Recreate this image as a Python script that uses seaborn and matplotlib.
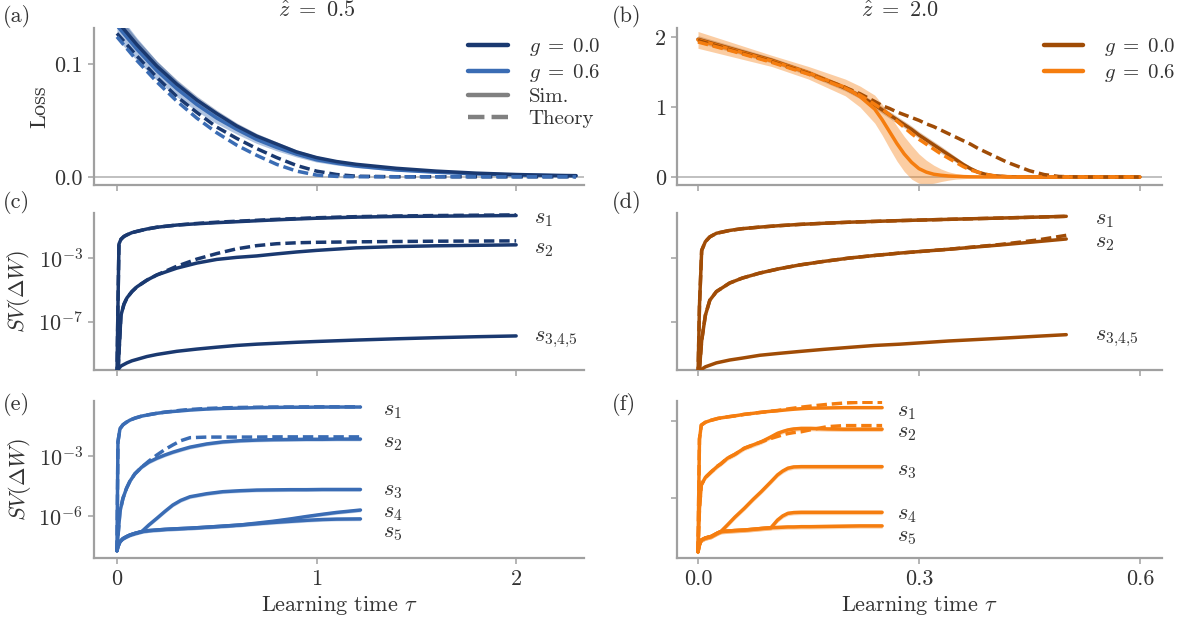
import numpy as np
import matplotlib
matplotlib.use("Agg")
import matplotlib.pyplot as plt
from matplotlib.lines import Line2D
from matplotlib.ticker import NullLocator, LogFormatterMathtext
import seaborn as sns

sns.set_theme(style="ticks")
FS = 16
plt.rcParams.update({
    "font.family": "serif",
    "font.serif": ["cmr10"],
    "mathtext.fontset": "cm",
    "axes.formatter.use_mathtext": True,
    "axes.unicode_minus": False,
    "font.size": FS,
    "axes.labelsize": FS,
    "axes.titlesize": FS,
    "xtick.labelsize": FS,
    "ytick.labelsize": FS,
    "legend.fontsize": 15,
    "axes.edgecolor": "#a0a0a0",
    "axes.linewidth": 1.6,
    "xtick.color": "#a0a0a0",
    "ytick.color": "#a0a0a0",
    "xtick.labelcolor": "#333333",
    "ytick.labelcolor": "#333333",
    "axes.labelcolor": "#333333",
    "text.color": "#333333",
})

NAVY = "#1a3970"
BLUE = "#3a6cb4"
BROWN = "#a04c06"
ORANGE = "#f57d0f"

# ---- (a) loss, z=0.5 ----
t_a = [0, 0.1, 0.2, 0.3, 0.4, 0.5, 0.6, 0.7, 0.8, 0.9, 1.0, 1.1, 1.2, 1.4, 1.6, 1.8, 2.0, 2.2, 2.3]
a_g0_sim = [0.138, 0.117, 0.098, 0.082, 0.068, 0.056, 0.045, 0.036, 0.029, 0.022, 0.017, 0.0135, 0.011, 0.0075, 0.005, 0.0032, 0.002, 0.0012, 0.001]
a_g06_sim = [0.134, 0.113, 0.094, 0.078, 0.064, 0.052, 0.042, 0.033, 0.026, 0.020, 0.015, 0.012, 0.0095, 0.006, 0.004, 0.0025, 0.0015, 0.001, 0.0008]
a_g0_th = [0.127, 0.107, 0.088, 0.071, 0.057, 0.044, 0.034, 0.025, 0.017, 0.010, 0.005, 0.002, 0.0005, 0, 0, 0, 0, 0, 0]
a_g06_th = [0.124, 0.103, 0.084, 0.067, 0.052, 0.039, 0.028, 0.019, 0.011, 0.005, 0.0015, 0.0003, 0, 0, 0, 0, 0, 0, 0]
a_g0_sd = [0.006, 0.005, 0.0045, 0.004, 0.0035, 0.003, 0.0027, 0.0024, 0.002, 0.0018, 0.0015, 0.0013, 0.0011, 0.0008, 0.0006, 0.0004, 0.0003, 0.0002, 0.0002]
a_g06_sd = [0.012, 0.010, 0.0085, 0.0072, 0.006, 0.005, 0.0042, 0.0035, 0.003, 0.0025, 0.002, 0.0017, 0.0014, 0.001, 0.0007, 0.0005, 0.0003, 0.0002, 0.0002]

# ---- (b) loss, z=2.0 ----
t_b = [0, 0.05, 0.1, 0.15, 0.2, 0.22, 0.24, 0.25, 0.26, 0.27, 0.28, 0.29, 0.30, 0.31, 0.32,
       0.33, 0.34, 0.35, 0.36, 0.37, 0.38, 0.39, 0.40, 0.42, 0.45, 0.47, 0.49, 0.52, 0.56, 0.6]
b_g0_sim = [1.97, 1.82, 1.67, 1.49, 1.27, 1.16, 1.03, 0.96, 0.89, 0.82, 0.75, 0.68, 0.60, 0.53, 0.46,
            0.39, 0.32, 0.25, 0.18, 0.12, 0.07, 0.04, 0.02, 0.005, 0.001, 0, 0, 0, 0, 0]
b_g0_th = [1.95, 1.80, 1.65, 1.48, 1.28, 1.19, 1.08, 1.02, 0.98, 0.93, 0.89, 0.85, 0.81, 0.76, 0.72,
           0.67, 0.62, 0.57, 0.52, 0.47, 0.41, 0.36, 0.31, 0.21, 0.09, 0.035, 0.008, 0, 0, 0]
b_g06_sim = [1.96, 1.81, 1.66, 1.49, 1.28, 1.15, 0.97, 0.82, 0.65, 0.48, 0.33, 0.21, 0.12, 0.07, 0.04,
             0.025, 0.015, 0.01, 0.006, 0.003, 0.002, 0.001, 0, 0, 0, 0, 0, 0, 0, 0]
b_g06_th = [1.93, 1.79, 1.64, 1.47, 1.27, 1.17, 1.04, 0.97, 0.89, 0.80, 0.71, 0.62, 0.54, 0.47, 0.40,
            0.33, 0.27, 0.21, 0.15, 0.10, 0.07, 0.04, 0.02, 0.004, 0, 0, 0, 0, 0, 0]
b_g0_sd = [0.05, 0.045, 0.04, 0.04, 0.04, 0.04, 0.045, 0.05, 0.05, 0.05, 0.05, 0.05, 0.05, 0.05, 0.05,
           0.05, 0.045, 0.04, 0.035, 0.03, 0.025, 0.02, 0.015, 0.01, 0.005, 0, 0, 0, 0, 0]
b_g06_sd = [0.12, 0.10, 0.08, 0.09, 0.12, 0.15, 0.20, 0.22, 0.24, 0.25, 0.25, 0.24, 0.21, 0.17, 0.13,
            0.09, 0.06, 0.04, 0.03, 0.02, 0.015, 0.01, 0.005, 0.002, 0, 0, 0, 0, 0, 0]

# ---- (c) log10 singular values, z=0.5, g=0 ----
t_c = [0, 0.005, 0.01, 0.02, 0.035, 0.05, 0.075, 0.1, 0.15, 0.2, 0.3, 0.4, 0.5, 0.6, 0.7,
       0.8, 0.9, 1.0, 1.2, 1.4, 1.6, 1.8, 2.0]
c_s1_sim = [-10.5, -6.0, -2.1, -1.8, -1.62, -1.52, -1.38, -1.3, -1.15, -1.04, -0.9, -0.82, -0.75, -0.69, -0.63,
            -0.57, -0.52, -0.47, -0.40, -0.36, -0.34, -0.32, -0.30]
c_s1_th = [-10.5, -6.0, -2.1, -1.8, -1.62, -1.52, -1.38, -1.3, -1.15, -1.04, -0.9, -0.80, -0.72, -0.66, -0.60,
           -0.54, -0.49, -0.44, -0.37, -0.33, -0.30, -0.28, -0.26]
c_s2_sim = [-11.0, -10.3, -9.0, -6.6, -5.9, -5.5, -5.1, -4.8, -4.38, -4.05, -3.62, -3.3, -3.07, -2.94, -2.85,
            -2.72, -2.6, -2.5, -2.34, -2.26, -2.21, -2.18, -2.15]
c_s2_th = [-11.0, -10.3, -9.0, -6.6, -5.9, -5.5, -5.1, -4.8, -4.38, -4.05, -3.5, -3.05, -2.7, -2.4, -2.2,
           -2.08, -2.02, -1.99, -1.96, -1.94, -1.92, -1.91, -1.90]
c_s345 = [-10.3, -10.05, -9.95, -9.8, -9.7, -9.6, -9.47, -9.38, -9.2, -9.07, -8.87, -8.73, -8.61, -8.5, -8.42,
          -8.36, -8.3, -8.25, -8.16, -8.08, -8.01, -7.95, -7.9]

# ---- (d) log10 singular values, z=2.0, g=0 ----
t_d = [0, 0.002, 0.005, 0.01, 0.016, 0.025, 0.043, 0.06, 0.084, 0.11, 0.138, 0.17, 0.206, 0.24, 0.274,
       0.34, 0.41, 0.46, 0.5]
d_s1 = [-10.5, -6.0, -2.5, -1.95, -1.65, -1.42, -1.24, -1.13, -1.03, -0.94, -0.86, -0.79, -0.72, -0.67, -0.62,
        -0.54, -0.46, -0.40, -0.35]
d_s2_sim = [-11.0, -10.0, -8.2, -6.6, -5.65, -5.1, -4.56, -4.25, -3.93, -3.66, -3.42, -3.2, -2.98, -2.82, -2.67,
            -2.43, -2.16, -1.95, -1.78]
d_s2_th = [-11.0, -10.0, -8.2, -6.6, -5.65, -5.1, -4.56, -4.25, -3.93, -3.66, -3.42, -3.2, -2.98, -2.82, -2.67,
           -2.43, -2.13, -1.85, -1.55]
d_s345 = [-10.3, -10.15, -10.0, -9.85, -9.75, -9.6, -9.42, -9.3, -9.12, -9.0, -8.88, -8.75, -8.62, -8.5, -8.42,
          -8.22, -8.05, -7.92, -7.82]

# ---- (e) log10 singular values, z=0.5, g=0.6 ----
t_e = [0, 0.005, 0.015, 0.03, 0.048, 0.065, 0.09, 0.124, 0.16, 0.2, 0.24, 0.28, 0.32, 0.366, 0.45,
       0.53, 0.62, 0.7, 0.78, 0.87, 0.95, 1.03, 1.1, 1.22]
e_s1_sim = [-7.7, -2.3, -1.65, -1.45, -1.32, -1.22, -1.12, -1.02, -0.95, -0.88, -0.83, -0.79, -0.76, -0.72, -0.67,
            -0.64, -0.62, -0.60, -0.59, -0.58, -0.58, -0.57, -0.57, -0.57]
e_s1_th = [-7.7, -2.3, -1.65, -1.45, -1.32, -1.22, -1.12, -1.02, -0.95, -0.88, -0.82, -0.78, -0.73, -0.69, -0.64,
           -0.61, -0.59, -0.58, -0.57, -0.57, -0.56, -0.56, -0.56, -0.56]
e_s2_sim = [-7.7, -7.0, -5.76, -5.1, -4.6, -4.25, -3.88, -3.55, -3.3, -3.11, -2.95, -2.81, -2.69, -2.56, -2.4,
            -2.3, -2.24, -2.21, -2.19, -2.18, -2.17, -2.17, -2.16, -2.16]
e_s2_th = [-7.7, -7.0, -5.76, -5.1, -4.6, -4.25, -3.88, -3.55, -3.25, -2.95, -2.68, -2.45, -2.24, -2.09, -2.06,
           -2.06, -2.06, -2.06, -2.05, -2.05, -2.05, -2.05, -2.05, -2.05]
e_s3 = [-7.7, -7.5, -7.25, -7.1, -7.0, -6.92, -6.84, -6.75, -6.42, -6.09, -5.75, -5.43, -5.2, -5.02, -4.87,
        -4.77, -4.72, -4.69, -4.68, -4.67, -4.67, -4.66, -4.66, -4.66]
e_s4 = [-7.7, -7.5, -7.25, -7.1, -7.0, -6.92, -6.84, -6.75, -6.7, -6.67, -6.64, -6.62, -6.6, -6.58, -6.53,
        -6.48, -6.42, -6.33, -6.24, -6.12, -6.0, -5.89, -5.8, -5.68]
e_s5 = [-7.7, -7.5, -7.25, -7.1, -7.0, -6.92, -6.84, -6.75, -6.7, -6.67, -6.64, -6.62, -6.6, -6.58, -6.53,
        -6.48, -6.42, -6.36, -6.3, -6.24, -6.19, -6.15, -6.13, -6.12]

# ---- (f) log10 singular values, z=2.0, g=0.6 ----
t_f = [0, 0.002, 0.0045, 0.01, 0.018, 0.027, 0.031, 0.04, 0.05, 0.063, 0.075, 0.086, 0.099, 0.108, 0.115,
       0.122, 0.13, 0.14, 0.153, 0.176, 0.198, 0.22, 0.25]
f_s1_sim = [-8.1, -3.7, -3.16, -3.05, -2.97, -2.9, -2.88, -2.84, -2.8, -2.74, -2.7, -2.66, -2.62, -2.6, -2.58,
            -2.56, -2.54, -2.52, -2.5, -2.49, -2.48, -2.48, -2.48]
f_s1_th = [-8.1, -3.7, -3.16, -3.05, -2.97, -2.9, -2.88, -2.84, -2.8, -2.74, -2.7, -2.66, -2.62, -2.59, -2.56,
           -2.53, -2.5, -2.46, -2.42, -2.35, -2.3, -2.27, -2.27]
f_s2_sim = [-8.1, -6.4, -5.49, -5.2, -4.98, -4.75, -4.67, -4.45, -4.3, -4.06, -3.93, -3.81, -3.62, -3.48, -3.41,
            -3.35, -3.31, -3.29, -3.29, -3.31, -3.32, -3.32, -3.32]
f_s2_th = [-8.1, -6.4, -5.49, -5.2, -4.98, -4.75, -4.67, -4.45, -4.3, -4.06, -3.93, -3.81, -3.68, -3.6, -3.54,
           -3.49, -3.45, -3.42, -3.34, -3.22, -3.18, -3.18, -3.18]
f_s3 = [-8.1, -7.83, -7.64, -7.56, -7.5, -7.36, -7.31, -7.05, -6.75, -6.4, -6.05, -5.75, -5.37, -5.1, -4.95,
        -4.84, -4.79, -4.78, -4.78, -4.78, -4.78, -4.78, -4.78]
f_s4 = [-8.1, -7.83, -7.64, -7.56, -7.5, -7.36, -7.31, -7.29, -7.27, -7.25, -7.22, -7.19, -7.16, -6.86, -6.7,
        -6.6, -6.57, -6.56, -6.56, -6.56, -6.56, -6.56, -6.56]
f_s5 = [-8.1, -7.83, -7.64, -7.56, -7.5, -7.36, -7.31, -7.29, -7.27, -7.25, -7.22, -7.19, -7.16, -7.15, -7.14,
        -7.13, -7.13, -7.12, -7.12, -7.11, -7.1, -7.09, -7.09]

SPREAD = 0.09  # decades, width of the simulation band in the log panels
LW = 2.5
DASH = (3.0, 1.4)


def curve(ax, t, v, color, dashed=False, log=False, z=3):
    y = 10.0 ** np.asarray(v, float) if log else np.asarray(v, float)
    sns.lineplot(x=t, y=y, ax=ax, color=color, linewidth=LW, estimator=None,
                 sort=False, legend=False, zorder=z)
    ln = ax.lines[-1]
    ln.set_solid_capstyle("round")
    if dashed:
        ln.set_linestyle((0, DASH))
        ln.set_dash_capstyle("butt")
    return ln


def band(ax, t, v, sd, color, alpha):
    v = np.asarray(v, float)
    sd = np.asarray(sd, float)
    ax.fill_between(t, v - sd, v + sd, color=color, alpha=alpha, lw=0, zorder=2)


def logband(ax, t, v, color, alpha=0.3):
    v = np.asarray(v, float)
    ax.fill_between(t, 10 ** (v - SPREAD), 10 ** (v + SPREAD), color=color, alpha=alpha, lw=0, zorder=2)


def label_end(ax, t, v, text, dx=14, dy=-3):
    ax.annotate(text, xy=(t[-1], 10 ** v[-1]), xytext=(dx, dy), textcoords="offset points",
                ha="left", va="center", fontsize=FS, color="#333333")


W, H = 1187, 623
fig = plt.figure(figsize=(W / 100, H / 100), dpi=100)
xl, wl = 94 / W, 490 / W
xr, wr = 677 / W, 485 / W
hh = 157 / H
rows = [1 - 185 / H, 1 - 370 / H, 1 - 558 / H]
ax_a = fig.add_axes([xl, rows[0], wl, hh])
ax_b = fig.add_axes([xr, rows[0], wr, hh])
ax_c = fig.add_axes([xl, rows[1], wl, hh])
ax_d = fig.add_axes([xr, rows[1], wr, hh])
ax_e = fig.add_axes([xl, rows[2], wl, hh])
ax_f = fig.add_axes([xr, rows[2], wr, hh])
for ax in (ax_c, ax_d, ax_e, ax_f):
    ax.set_yscale("log")

leg_kw = dict(loc="upper right", frameon=False, handlelength=1.9,
              handletextpad=1.0, labelspacing=0.17, borderaxespad=0)

# (a)
band(ax_a, t_a, a_g06_sim, a_g06_sd, BLUE, 0.4)
band(ax_a, t_a, a_g0_sim, a_g0_sd, NAVY, 0.35)
ax_a.axhline(0, color="#b5b5b5", lw=1.2, zorder=1)
curve(ax_a, t_a, a_g06_sim, BLUE)
curve(ax_a, t_a, a_g0_sim, NAVY)
curve(ax_a, t_a, a_g0_th, NAVY, dashed=True)
curve(ax_a, t_a, a_g06_th, BLUE, dashed=True)
ax_a.set_ylim(-0.0073, 0.1318)
ax_a.set_yticks([0.0, 0.1])
ax_a.set_yticklabels(["0.0", "0.1"])
ax_a.set_ylabel("Loss")
ax_a.set_title(r"$\hat{z}\ =\ 0.5$", x=0.455, pad=8)
leg_a = [Line2D([], [], color=NAVY, lw=3.2), Line2D([], [], color=BLUE, lw=3.2),
         Line2D([], [], color="#808080", lw=3.2),
         Line2D([], [], color="#808080", lw=3.2, ls="--")]
ax_a.legend(leg_a, [r"$g\;=\;0.0$", r"$g\;=\;0.6$", "Sim.", "Theory"],
            bbox_to_anchor=(1.05, 1.0), **leg_kw)

# (b)
band(ax_b, t_b, b_g06_sim, b_g06_sd, ORANGE, 0.38)
band(ax_b, t_b, b_g0_sim, b_g0_sd, BROWN, 0.3)
ax_b.axhline(0, color="#b5b5b5", lw=1.2, zorder=1)
curve(ax_b, t_b, b_g0_sim, BROWN)
curve(ax_b, t_b, b_g06_sim, ORANGE)
curve(ax_b, t_b, b_g0_th, BROWN, dashed=True)
curve(ax_b, t_b, b_g06_th, ORANGE, dashed=True)
ax_b.set_ylim(-0.114, 2.13)
ax_b.set_yticks([0, 1, 2])
ax_b.set_yticklabels(["0", "1", "2"])
ax_b.set_title(r"$\hat{z}\ =\ 2.0$", x=0.46, pad=8)
leg_b = [Line2D([], [], color=BROWN, lw=3.2), Line2D([], [], color=ORANGE, lw=3.2)]
ax_b.legend(leg_b, [r"$g\;=\;0.0$", r"$g\;=\;0.6$"],
            bbox_to_anchor=(1.045, 1.0), **leg_kw)

# (c)
curve(ax_c, t_c, c_s345, NAVY, log=True)
curve(ax_c, t_c, c_s2_sim, NAVY, log=True)
curve(ax_c, t_c, c_s1_sim, NAVY, log=True)
curve(ax_c, t_c, c_s2_th, NAVY, dashed=True, log=True)
curve(ax_c, t_c, c_s1_th, NAVY, dashed=True, log=True)
label_end(ax_c, t_c, c_s1_sim, r"$s_1$", dx=13)
label_end(ax_c, t_c, c_s2_sim, r"$s_2$", dx=13)
label_end(ax_c, t_c, c_s345, r"$s_{3{,}4{,}5}$", dx=13)

# (d)
curve(ax_d, t_d, d_s345, BROWN, log=True)
curve(ax_d, t_d, d_s2_sim, BROWN, log=True)
curve(ax_d, t_d, d_s1, BROWN, log=True)
curve(ax_d, t_d, d_s2_th, BROWN, dashed=True, log=True)
curve(ax_d, t_d, d_s1, BROWN, dashed=True, log=True)
label_end(ax_d, t_d, d_s1, r"$s_1$", dx=21)
label_end(ax_d, t_d, d_s2_sim, r"$s_2$", dx=21)
label_end(ax_d, t_d, d_s345, r"$s_{3{,}4{,}5}$", dx=21)

for ax in (ax_c, ax_d):
    ax.set_ylim(10 ** -10.05, 10 ** -0.14)
    ax.set_yticks([1e-7, 1e-3])

# (e)
for v in (e_s5, e_s4, e_s3, e_s2_sim):
    logband(ax_e, t_e, v, BLUE)
for v in (e_s5, e_s4, e_s3, e_s2_sim, e_s1_sim):
    curve(ax_e, t_e, v, BLUE, log=True)
curve(ax_e, t_e, e_s2_th, BLUE, dashed=True, log=True)
curve(ax_e, t_e, e_s1_th, BLUE, dashed=True, log=True)
label_end(ax_e, t_e, e_s1_sim, r"$s_1$", dx=16)
label_end(ax_e, t_e, e_s2_sim, r"$s_2$", dx=16)
label_end(ax_e, t_e, e_s3, r"$s_3$", dx=16, dy=-1)
label_end(ax_e, t_e, e_s4, r"$s_4$", dx=16, dy=-2)
label_end(ax_e, t_e, e_s5, r"$s_5$", dx=16, dy=-10)
ax_e.set_ylim(10 ** -8.06, 10 ** -0.27)
ax_e.set_yticks([1e-6, 1e-3])

# (f)
for v in (f_s5, f_s4, f_s3, f_s2_sim):
    logband(ax_f, t_f, v, ORANGE)
for v in (f_s5, f_s4, f_s3, f_s2_sim, f_s1_sim):
    curve(ax_f, t_f, v, ORANGE, log=True)
curve(ax_f, t_f, f_s2_th, ORANGE, dashed=True, log=True)
curve(ax_f, t_f, f_s1_th, ORANGE, dashed=True, log=True)
label_end(ax_f, t_f, f_s1_sim, r"$s_1$", dx=11)
label_end(ax_f, t_f, f_s2_sim, r"$s_2$", dx=11)
label_end(ax_f, t_f, f_s3, r"$s_3$", dx=11)
label_end(ax_f, t_f, f_s4, r"$s_4$", dx=11, dy=-2)
label_end(ax_f, t_f, f_s5, r"$s_5$", dx=11, dy=-8)
ax_f.set_ylim(10 ** -8.34, 10 ** -2.22)
ax_f.set_yticks([1e-6, 1e-3])

for ax in (ax_c, ax_d, ax_e, ax_f):
    ax.yaxis.set_minor_locator(NullLocator())
    ax.yaxis.set_major_formatter(LogFormatterMathtext())
for ax in (ax_c, ax_e):
    ax.set_ylabel(r"$SV(\Delta W)$")

# shared x per column
for ax in (ax_a, ax_c, ax_e):
    ax.set_xlim(-0.115, 2.34)
    ax.set_xticks([0, 1, 2])
for ax in (ax_b, ax_d, ax_f):
    ax.set_xlim(-0.0285, 0.63)
    ax.set_xticks([0.0, 0.3, 0.6])
ax_e.set_xticklabels(["0", "1", "2"])
ax_f.set_xticklabels(["0.0", "0.3", "0.6"])
for ax in (ax_a, ax_b, ax_c, ax_d):
    ax.tick_params(axis="x", labelbottom=False)
for ax in (ax_d, ax_f):
    ax.tick_params(axis="y", labelleft=False)
for ax in (ax_e, ax_f):
    ax.set_xlabel(r"Learning time $\tau$")

for ax in fig.axes:
    sns.despine(ax=ax)
    ax.tick_params(length=4, width=1.1, pad=4)

for s, x, y in [("(a)", 3, 16), ("(b)", 612, 16), ("(c)", 3, 203),
                ("(d)", 612, 203), ("(e)", 3, 405), ("(f)", 612, 405)]:
    fig.text(x / W, 1 - y / H, s, ha="left", va="center", fontsize=FS, color="#333333")

fig.savefig("out.png", dpi=100)
